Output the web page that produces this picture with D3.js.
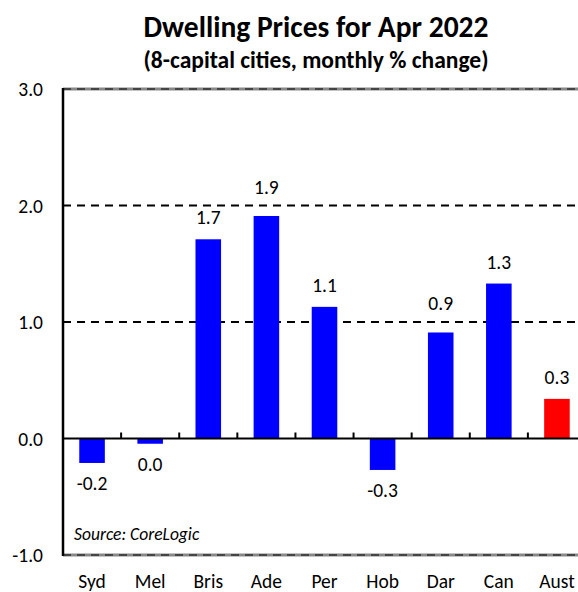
<!DOCTYPE html>
<html>
<head>
<meta charset="utf-8">
<script src="https://cdn.jsdelivr.net/npm/d3@7"></script>
<style>
  body { margin: 0; background: #fff; }
  svg { font-family: Carlito, Lato, "Open Sans", sans-serif; }
</style>
</head>
<body>
<script>
const cities = ['Syd', 'Mel', 'Bris', 'Ade', 'Per', 'Hob', 'Dar', 'Can', 'Aust'];
const changes = [-0.21, -0.045, 1.71, 1.91, 1.13, -0.27, 0.91, 1.33, 0.34];
const yTicks = [-1, 0, 1, 2, 3];
const gridValues = [1, 2];

const width = 578, height = 592;
const plotLeft = 63, plotRight = 586, plotTop = 89, plotBottom = 555;

const svg = d3.select('body').append('svg')
  .attr('width', width)
  .attr('height', height);

const x = d3.scaleBand().domain(cities).range([plotLeft, plotRight]).paddingInner(0.56).paddingOuter(0.28);
const y = d3.scaleLinear().domain([-1, 3]).range([plotBottom, plotTop]);

// titles
svg.append('text')
  .attr('x', 316).attr('y', 37)
  .attr('text-anchor', 'middle')
  .attr('font-weight', 'bold')
  .attr('font-size', 29.5)
  .text('Dwelling Prices for Apr 2022');
svg.append('text')
  .attr('x', 316).attr('y', 68)
  .attr('text-anchor', 'middle')
  .attr('font-weight', 'bold')
  .attr('font-size', 23.5)
  .text('(8-capital cities, monthly % change)');

// dashed grid at 1 and 2
svg.selectAll('.grid')
  .data(gridValues)
  .enter()
  .append('line')
  .attr('x1', plotLeft).attr('x2', width)
  .attr('y1', d => y(d)).attr('y2', d => y(d))
  .attr('stroke', '#000')
  .attr('stroke-width', 2)
  .attr('stroke-dasharray', '8,6');

// top and bottom frame lines (grey dashed)
[3, -1].forEach(v => {
  svg.append('line')
    .attr('x1', plotLeft).attr('x2', width)
    .attr('y1', y(v)).attr('y2', y(v))
    .attr('stroke', '#888')
    .attr('stroke-width', 3);
  svg.append('line')
    .attr('x1', plotLeft).attr('x2', width)
    .attr('y1', y(v)).attr('y2', y(v))
    .attr('stroke', '#444')
    .attr('stroke-width', 2)
    .attr('stroke-dasharray', '8,6');
});

// bars
svg.selectAll('.bar')
  .data(cities)
  .enter()
  .append('rect')
  .attr('x', d => x(d))
  .attr('width', x.bandwidth())
  .attr('y', (d, i) => y(Math.max(0, changes[i])))
  .attr('height', (d, i) => Math.abs(y(changes[i]) - y(0)))
  .attr('fill', d => d === 'Aust' ? '#ff0000' : '#0000ff');

// value labels, nudged above a gridline if they would sit on it
function labelY(v) {
  if (v < 0) return y(v) + 27;
  let base = y(v) - 15;
  gridValues.forEach(g => {
    const gy = y(g);
    if (gy > base - 16 && gy < base + 8) base = gy - 12;
  });
  return base;
}

svg.selectAll('.val')
  .data(cities)
  .enter()
  .append('text')
  .attr('x', d => x(d) + x.bandwidth() / 2)
  .attr('y', (d, i) => labelY(changes[i]))
  .attr('text-anchor', 'middle')
  .attr('font-size', 19.5)
  .text((d, i) => {
    const s = changes[i].toFixed(1);
    return s === '-0.0' ? '0.0' : s;
  });

// zero line with ticks
svg.append('line')
  .attr('x1', plotLeft).attr('x2', width)
  .attr('y1', y(0)).attr('y2', y(0))
  .attr('stroke', '#000')
  .attr('stroke-width', 2);
svg.selectAll('.xtick')
  .data(cities.slice(1))
  .enter()
  .append('line')
  .attr('x1', d => x(d) - x.step() * x.paddingInner() / 2)
  .attr('x2', d => x(d) - x.step() * x.paddingInner() / 2)
  .attr('y1', y(0)).attr('y2', y(0) - 6)
  .attr('stroke', '#000')
  .attr('stroke-width', 2);

// left axis
svg.append('line')
  .attr('x1', plotLeft).attr('x2', plotLeft)
  .attr('y1', y(3) - 1).attr('y2', y(-1) + 1)
  .attr('stroke', '#000')
  .attr('stroke-width', 2.5);

svg.selectAll('.ylab')
  .data(yTicks)
  .enter()
  .append('text')
  .attr('x', 43)
  .attr('y', d => y(d) + 7)
  .attr('text-anchor', 'end')
  .attr('font-size', 19.5)
  .text(d => d.toFixed(1));

// category labels
svg.selectAll('.xlab')
  .data(cities)
  .enter()
  .append('text')
  .attr('x', d => x(d) + x.bandwidth() / 2)
  .attr('y', 588)
  .attr('text-anchor', 'middle')
  .attr('font-size', 19.5)
  .text(d => d);

svg.append('text')
  .attr('x', 74).attr('y', 540)
  .attr('font-size', 17.5)
  .attr('font-style', 'italic')
  .text('Source: CoreLogic');
</script>
</body>
</html>
